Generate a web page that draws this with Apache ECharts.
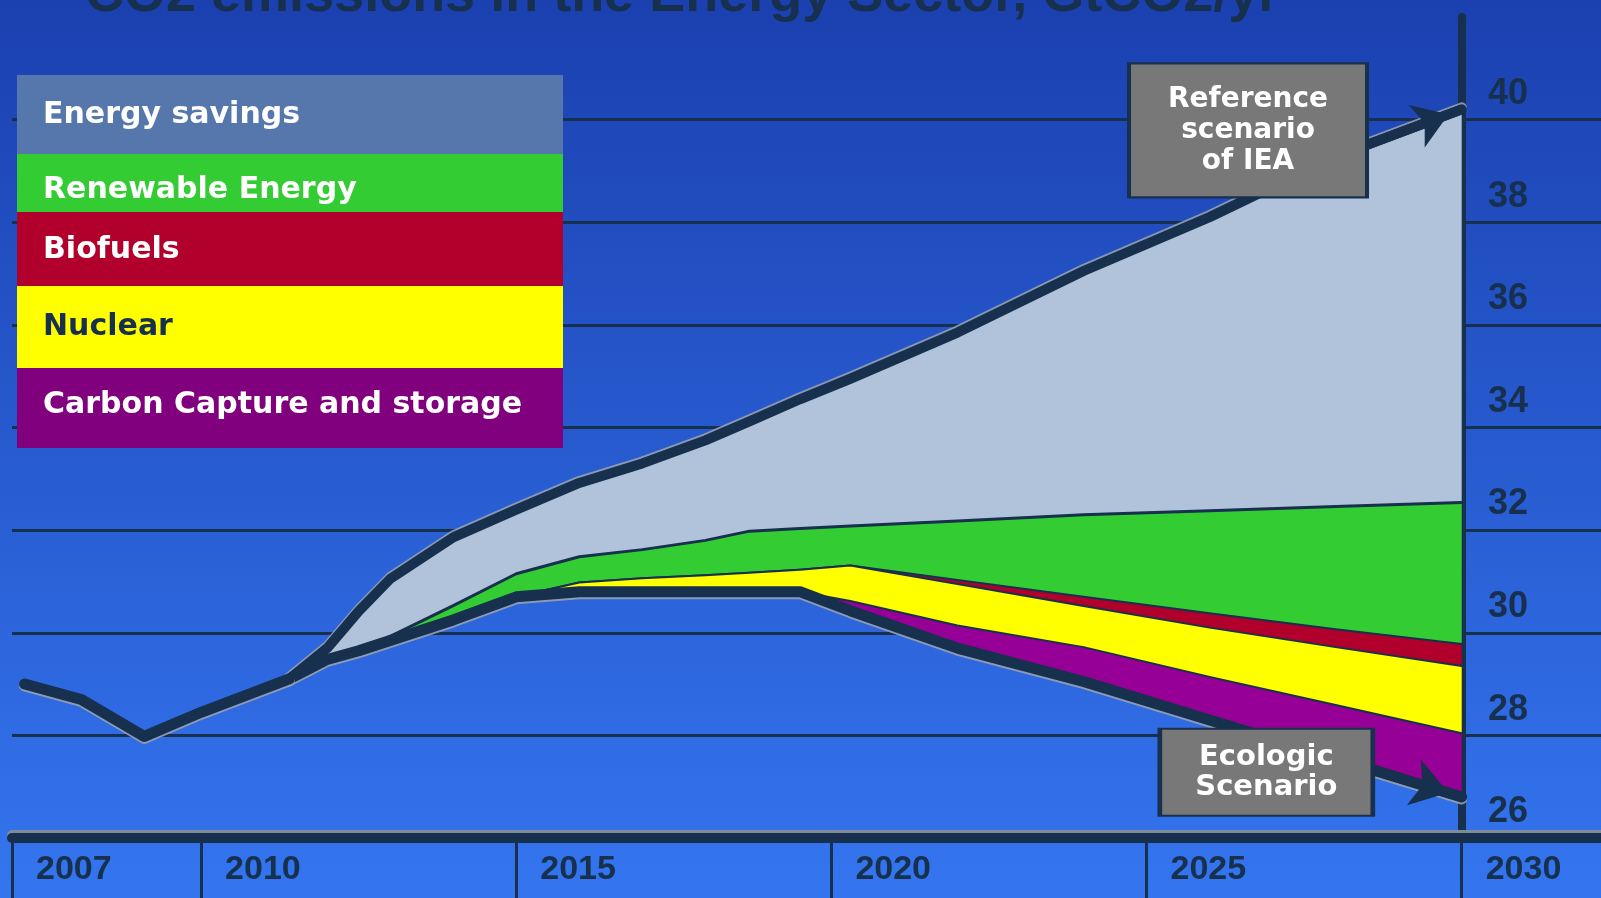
<!DOCTYPE html>
<html>
<head>
<meta charset="utf-8">
<title>CO2 emissions in the Energy Sector</title>
<script src="https://cdn.jsdelivr.net/npm/echarts@6/dist/echarts.min.js"></script>
<style>
  html, body { margin: 0; padding: 0; width: 1601px; height: 898px; overflow: hidden; background: #2558d0; }
  #chart { width: 1601px; height: 898px; }
</style>
</head>
<body>
<div id="chart"></div>
<script>
// Historical emissions, GtCO2/yr
const histYears  = [2007.2, 2008.1, 2009.1, 2010, 2011.4];
const histValues = [28.5, 28.2, 27.48, 27.95, 28.6];

// Scenario years (from the split onwards)
const years = [2011.4, 2012, 2012.5, 2013, 2014, 2015, 2016, 2017, 2018, 2018.7, 2019.5, 2020.3, 2022, 2024, 2026, 2028, 2030];

// Ecologic scenario emissions, GtCO2/yr
const ecologic   = [28.6, 28.98, 29.15, 29.35, 29.75, 30.2, 30.3, 30.3, 30.3, 30.3, 30.3, 29.93, 29.2, 28.55, 27.8, 27.05, 26.3];

// Reductions by measure relative to the reference scenario, GtCO2/yr
const ccs        = [0, 0, 0, 0, 0, 0, 0, 0, 0, 0, 0, 0.19, 0.44, 0.67, 0.84, 1.04, 1.24];
const nuclear    = [0, 0, 0, 0, 0, 0, 0.18, 0.26, 0.32, 0.37, 0.43, 0.69, 0.81, 0.80, 0.96, 1.13, 1.31];
const biofuels   = [0, 0, 0, 0, 0, 0, 0, 0, 0, 0, 0, 0, 0.08, 0.18, 0.28, 0.35, 0.43];
const renewables = [0, 0, 0, 0.08, 0.28, 0.45, 0.5, 0.56, 0.68, 0.81, 0.8, 0.77, 1.15, 1.6, 2.0, 2.39, 2.76];
const savings    = [0, 0.22, 0.77, 1.12, 1.33, 1.25, 1.44, 1.68, 1.95, 2.14, 2.52, 2.87, 3.67, 4.75, 5.72, 6.82, 7.66];

// Axis labels
const xTickYears = [2007, 2010, 2015, 2020, 2025, 2030];
const yTickLabels = [26, 28, 30, 32, 34, 36, 38, 40];

const NAVY = '#17304d';
// Rows are [value, year] so the value column (not the year) is the one that stacks
const rows = (vals) => years.map((y, i) => [vals[i], y]);
const encodeXY = { x: 1, y: 0 };
const last = years.length - 1;
const reference = years.map((_, i) =>
  ecologic[i] + ccs[i] + nuclear[i] + biofuels[i] + renewables[i] + savings[i]);

// Stack order bottom -> top; legend is listed top -> bottom
const measures = [
  { name: 'Carbon Capture and storage', data: ccs,        area: '#960096', key: '#81007d', text: '#ffffff', lw: 2,  z: 7 },
  { name: 'Nuclear',                    data: nuclear,    area: '#ffff00', key: '#ffff00', text: NAVY,      lw: 2,  z: 6 },
  { name: 'Biofuels',                   data: biofuels,   area: '#b0002b', key: '#b0002b', text: '#ffffff', lw: 2,  z: 5 },
  { name: 'Renewable Energy',           data: renewables, area: '#33cc33', key: '#33cc33', text: '#ffffff', lw: 3,  z: 4 },
  { name: 'Energy savings',             data: savings,    area: '#b1c3da', key: '#5577ac', text: '#ffffff', lw: 10, z: 3 }
];

const lowerEdge = { shadowColor: 'rgba(150,160,178,0.9)', shadowBlur: 0, shadowOffsetY: 2 };
const upperEdge = { shadowColor: 'rgba(150,160,178,0.9)', shadowBlur: 0, shadowOffsetY: -2 };

const boxStyle = { color: '#787878', borderColor: NAVY, borderWidth: 3 };
const boxLabel = {
  show: true, position: 'inside', color: '#ffffff',
  fontFamily: 'DejaVu Sans', fontWeight: 'bold', fontSize: 28, lineHeight: 31
};

// Arrow head at the 2030 end of a scenario line
const arrowEnd = (values, size, back) => ({
  z: 9, silent: true, symbol: ['none', 'arrow'], symbolSize: size, symbolOffset: [0, [0, back]],
  lineStyle: { color: NAVY, width: 10, type: 'solid' }, label: { show: false },
  data: [[{ coord: [years[last - 1], values[last - 1]] }, { coord: [years[last], values[last]] }]]
});

const series = [];

series.push({
  name: 'Ecologic Scenario',
  type: 'line', stack: 'co2', z: 8,
  data: rows(ecologic), encode: encodeXY,
  symbol: 'none', silent: true,
  lineStyle: Object.assign({ color: NAVY, width: 11, cap: 'round', join: 'round' }, lowerEdge),
  markLine: arrowEnd(ecologic, 36, 14),
  markPoint: {
    z: 20, silent: true,
    data: [{
      coord: [2026.9, 26.78], symbol: 'rect', symbolSize: [213, 87],
      itemStyle: boxStyle,
      label: Object.assign({ formatter: 'Ecologic\nScenario' }, boxLabel, { fontSize: 29, lineHeight: 30 })
    }]
  }
});

measures.forEach((m) => {
  const s = {
    name: m.name,
    type: 'line', stack: 'co2', z: m.z,
    data: rows(m.data), encode: encodeXY,
    symbol: 'none', silent: true,
    lineStyle: { color: NAVY, width: m.lw, cap: 'round', join: 'round' },
    areaStyle: { color: m.area, opacity: 1 }
  };
  if (m.name === 'Energy savings') {
    Object.assign(s.lineStyle, upperEdge);
    s.markLine = arrowEnd(reference, 34, 14);
    s.markPoint = {
      z: 20, silent: true,
      data: [{
        coord: [2026.61, 39.29], symbol: 'rect', symbolSize: [238, 134],
        itemStyle: boxStyle,
        label: Object.assign({ formatter: 'Reference\nscenario\nof IEA' }, boxLabel)
      }]
    };
  }
  series.push(s);
});

series.push({
  name: 'Emissions',
  type: 'line', z: 8,
  data: histYears.map((y, i) => [y, histValues[i]]),
  symbol: 'none', silent: true,
  lineStyle: Object.assign({ color: NAVY, width: 11, cap: 'round', join: 'round' }, lowerEdge)
});

// Legend block: one coloured band per measure
const legendRows = [
  { top: 75,  h: 79, ty: 40 },
  { top: 154, h: 58, ty: 36 },
  { top: 212, h: 74, ty: 38 },
  { top: 286, h: 82, ty: 41 },
  { top: 368, h: 80, ty: 37 }
];
const legendItems = measures.slice().reverse();
const graphics = [];
legendItems.forEach((m, i) => {
  const r = legendRows[i];
  graphics.push({ type: 'rect', z: 50, shape: { x: 17, y: r.top, width: 546, height: r.h }, style: { fill: m.key } });
});
legendItems.forEach((m, i) => {
  const r = legendRows[i];
  graphics.push({
    type: 'text', z: 51, x: 43, y: r.top + r.ty,
    style: { text: m.name, fill: m.text, fontFamily: 'DejaVu Sans', fontWeight: 'bold', fontSize: 30, verticalAlign: 'middle', align: 'left' }
  });
});

const chart = echarts.init(document.getElementById('chart'), null, { renderer: 'canvas' });
chart.setOption({
  animation: false,
  backgroundColor: new echarts.graphic.LinearGradient(0, 0, 0, 1, [
    { offset: 0, color: '#1b40b0' },
    { offset: 1, color: '#3475ef' }
  ]),
  title: {
    text: 'CO2 emissions in the Energy Sector, GtCO2/yr',
    left: 80, top: -36,
    textStyle: { color: NAVY, fontFamily: 'Liberation Sans', fontWeight: 'bold', fontSize: 54 }
  },
  grid: { left: 12, right: 0, top: 17, bottom: 60, outerBoundsMode: 'none' },
  xAxis: {
    type: 'value', min: 2007, max: 2032.21,
    axisLine: { show: true, onZero: false, lineStyle: { color: NAVY, width: 10, shadowColor: '#7d8a99', shadowOffsetY: -3 } },
    axisTick: { show: true, customValues: xTickYears, length: 60, lineStyle: { color: NAVY, width: 3 } },
    axisLabel: {
      customValues: xTickYears, formatter: (v) => String(v),
      align: 'left', padding: [0, 0, 0, 24], margin: 15,
      color: NAVY, fontFamily: 'Liberation Sans', fontWeight: 'bold', fontSize: 34
    },
    splitLine: { show: false }
  },
  yAxis: {
    type: 'value', position: 'right', offset: -139,
    min: 25.5, max: 41.5, interval: 2,
    axisLine: { show: true, lineStyle: { color: NAVY, width: 8 } },
    axisTick: { show: false },
    axisLabel: {
      customValues: yTickLabels, margin: 26,
      color: NAVY, fontFamily: 'Liberation Sans', fontWeight: 'bold', fontSize: 36
    },
    splitLine: { show: true, showMinLine: false, showMaxLine: false, lineStyle: { color: NAVY, width: 3 } }
  },
  graphic: graphics,
  series: series
});
</script>
</body>
</html>
